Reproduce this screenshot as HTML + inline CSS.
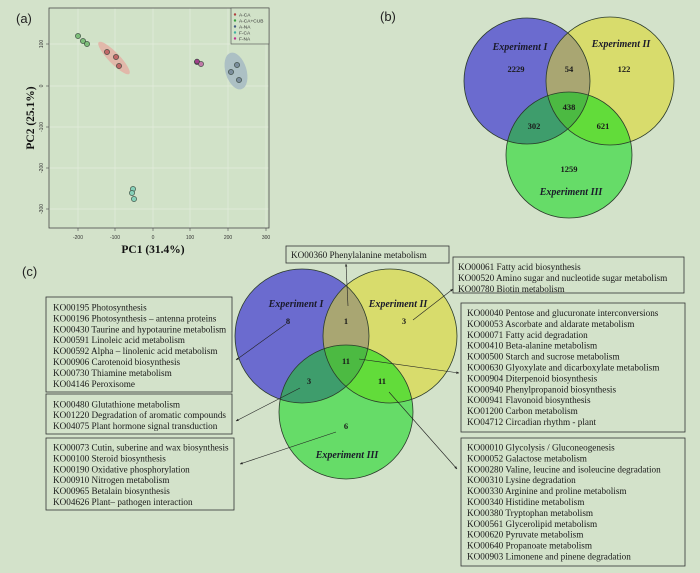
<!DOCTYPE html>
<html><head><meta charset="utf-8"><style>
html,body{margin:0;padding:0;background:#d3e2ca;}
svg{display:block;}
.t{font-family:"Liberation Serif",serif;font-size:9.2px;fill:#1a1a1a;}
.ex{font-family:"Liberation Serif",serif;font-size:10px;font-weight:bold;font-style:italic;fill:#1a1a2a;}
.nm{font-family:"Liberation Serif",serif;font-size:8.5px;font-weight:bold;fill:#1a1a1a;}
.lab{font-family:"Liberation Sans",sans-serif;font-size:13px;fill:#222;}
.tk{font-family:"Liberation Sans",sans-serif;font-size:5px;fill:#333;}
.lg{font-family:"Liberation Sans",sans-serif;font-size:4.8px;fill:#333;}
.ax{font-family:"Liberation Serif",serif;font-size:11.5px;font-weight:bold;fill:#111;}
</style></head><body>
<svg width="700" height="573" viewBox="0 0 700 573" xmlns="http://www.w3.org/2000/svg">
<defs>
<marker id="ah" viewBox="0 0 10 10" refX="9" refY="5" markerWidth="5" markerHeight="5" orient="auto-start-reverse">
<path d="M0,1 L10,5 L0,9 z" fill="#222"/>
</marker>
<clipPath id="bA"><circle cx="527" cy="81" r="63"/></clipPath>
<clipPath id="bB"><circle cx="610" cy="81" r="64"/></clipPath>
<clipPath id="bC"><circle cx="569" cy="155" r="63"/></clipPath>
<clipPath id="cA"><circle cx="302" cy="336" r="67"/></clipPath>
<clipPath id="cB"><circle cx="390" cy="336" r="67"/></clipPath>
<clipPath id="cC"><circle cx="346" cy="412" r="67"/></clipPath>
</defs>
<rect width="700" height="573" fill="#d3e2ca"/>

<!-- Panel (a) -->
<text class="lab" x="16" y="23">(a)</text>
<rect x="49" y="8" width="220" height="220" fill="#d1e2c8"/>
<g stroke="#e3ecdd" stroke-width="0.7">
<line x1="78" y1="8" x2="78" y2="228"/><line x1="115" y1="8" x2="115" y2="228"/>
<line x1="153" y1="8" x2="153" y2="228"/><line x1="190" y1="8" x2="190" y2="228"/>
<line x1="228" y1="8" x2="228" y2="228"/><line x1="266" y1="8" x2="266" y2="228"/>
<line x1="49" y1="44" x2="269" y2="44"/><line x1="49" y1="86" x2="269" y2="86"/>
<line x1="49" y1="127" x2="269" y2="127"/><line x1="49" y1="168" x2="269" y2="168"/>
<line x1="49" y1="209" x2="269" y2="209"/>
</g>
<rect x="49" y="8" width="220" height="220" fill="none" stroke="#4a4a4a" stroke-width="0.8"/>
<g stroke="#4a4a4a" stroke-width="0.6">
<line x1="78" y1="228" x2="78" y2="231"/><line x1="115" y1="228" x2="115" y2="231"/>
<line x1="153" y1="228" x2="153" y2="231"/><line x1="190" y1="228" x2="190" y2="231"/>
<line x1="228" y1="228" x2="228" y2="231"/><line x1="266" y1="228" x2="266" y2="231"/>
<line x1="46" y1="44" x2="49" y2="44"/><line x1="46" y1="86" x2="49" y2="86"/>
<line x1="46" y1="127" x2="49" y2="127"/><line x1="46" y1="168" x2="49" y2="168"/>
<line x1="46" y1="209" x2="49" y2="209"/>
</g>
<g class="tk" text-anchor="middle">
<text x="78" y="239">-200</text><text x="115" y="239">-100</text><text x="153" y="239">0</text>
<text x="190" y="239">100</text><text x="228" y="239">200</text><text x="266" y="239">300</text>
<text transform="translate(43,44) rotate(-90)">100</text>
<text transform="translate(43,86) rotate(-90)">0</text>
<text transform="translate(43,127) rotate(-90)">-100</text>
<text transform="translate(43,168) rotate(-90)">-200</text>
<text transform="translate(43,209) rotate(-90)">-300</text>
</g>
<!-- ellipses -->
<ellipse cx="114" cy="58" rx="22" ry="5.5" transform="rotate(46 114 58)" fill="#e2b4a6" opacity="0.9"/>
<ellipse cx="236" cy="71" rx="10.5" ry="19" transform="rotate(-17 236 71)" fill="#a7bcc3" opacity="0.9"/>
<!-- points -->
<g stroke="#2f3f35" stroke-width="0.6">
<circle cx="78" cy="36" r="2.6" fill="#7dbd7a"/><circle cx="83" cy="41" r="2.6" fill="#7dbd7a"/><circle cx="87" cy="44" r="2.6" fill="#7dbd7a"/>
<circle cx="107" cy="52" r="2.6" fill="#c06868"/><circle cx="116" cy="57" r="2.6" fill="#c06868"/><circle cx="119" cy="66" r="2.6" fill="#c06868"/>
<circle cx="197" cy="62" r="2.6" fill="#b24d96"/><circle cx="201" cy="64" r="2.6" fill="#c07aa8"/><circle cx="197" cy="61.5" r="2.4" fill="#a0408a"/>
<circle cx="237" cy="65" r="2.6" fill="#7b8e9c"/><circle cx="231" cy="72" r="2.6" fill="#7b8e9c"/><circle cx="239" cy="80" r="2.6" fill="#7b8e9c"/>
<circle cx="133" cy="189" r="2.6" fill="#86d0b8"/><circle cx="132" cy="193" r="2.6" fill="#86d0b8"/><circle cx="134" cy="199" r="2.6" fill="#86d0b8"/>
</g>
<!-- legend -->
<rect x="231" y="8" width="38" height="36" fill="#d1e2c8" stroke="#4a4a4a" stroke-width="0.6"/>
<circle cx="235" cy="14.5" r="1.2" fill="#b04040"/><text class="lg" x="239" y="16.3">A-CA</text>
<circle cx="235" cy="20.5" r="1.2" fill="#3aa040"/><text class="lg" x="239" y="22.3">A-CA+CUB</text>
<circle cx="235" cy="26.5" r="1.2" fill="#405a80"/><text class="lg" x="239" y="28.3">A-NA</text>
<circle cx="235" cy="32.5" r="1.2" fill="#40b0a0"/><text class="lg" x="239" y="34.3">F-CA</text>
<circle cx="235" cy="38.5" r="1.2" fill="#c03090"/><text class="lg" x="239" y="40.3">F-NA</text>
<text class="ax" x="153" y="253" text-anchor="middle">PC1 (31.4%)</text>
<text class="ax" transform="translate(34,118) rotate(-90)" text-anchor="middle">PC2 (25.1%)</text>

<!-- Panel (b) -->
<text class="lab" x="380" y="21">(b)</text>
<circle cx="527" cy="81" r="63" fill="#6b6bcf"/>
<circle cx="610" cy="81" r="64" fill="#d8dc6c"/>
<circle cx="569" cy="155" r="63" fill="#66dc68"/>
<circle cx="610" cy="81" r="64" fill="#a9a672" clip-path="url(#bA)"/>
<circle cx="569" cy="155" r="63" fill="#3e9d6c" clip-path="url(#bA)"/>
<circle cx="569" cy="155" r="63" fill="#62dc3a" clip-path="url(#bB)"/>
<g clip-path="url(#bA)"><circle cx="569" cy="155" r="63" fill="#4cba42" clip-path="url(#bB)"/></g>
<g fill="none" stroke="#2a3a2a" stroke-width="0.8">
<circle cx="527" cy="81" r="63"/><circle cx="610" cy="81" r="64"/><circle cx="569" cy="155" r="63"/>
</g>
<text class="ex" x="520" y="50" text-anchor="middle">Experiment I</text>
<text class="ex" x="621" y="47" text-anchor="middle">Experiment II</text>
<text class="ex" x="571" y="195" text-anchor="middle">Experiment III</text>
<g class="nm" text-anchor="middle">
<text x="516" y="72">2229</text><text x="569" y="72">54</text><text x="624" y="72">122</text>
<text x="569" y="110">438</text><text x="534" y="129">302</text><text x="603" y="129">621</text>
<text x="569" y="172">1259</text>
</g>

<!-- Panel (c) -->
<text class="lab" x="22" y="276">(c)</text>
<circle cx="302" cy="336" r="67" fill="#6b6bcf"/>
<circle cx="390" cy="336" r="67" fill="#d8dc6c"/>
<circle cx="346" cy="412" r="67" fill="#66dc68"/>
<circle cx="390" cy="336" r="67" fill="#a9a672" clip-path="url(#cA)"/>
<circle cx="346" cy="412" r="67" fill="#3e9d6c" clip-path="url(#cA)"/>
<circle cx="346" cy="412" r="67" fill="#62dc3a" clip-path="url(#cB)"/>
<g clip-path="url(#cA)"><circle cx="346" cy="412" r="67" fill="#4cba42" clip-path="url(#cB)"/></g>
<g fill="none" stroke="#2a3a2a" stroke-width="0.8">
<circle cx="302" cy="336" r="67"/><circle cx="390" cy="336" r="67"/><circle cx="346" cy="412" r="67"/>
</g>
<text class="ex" x="296" y="307" text-anchor="middle">Experiment I</text>
<text class="ex" x="398" y="307" text-anchor="middle">Experiment II</text>
<text class="ex" x="347" y="458" text-anchor="middle">Experiment III</text>
<g class="nm" text-anchor="middle">
<text x="288" y="324">8</text><text x="346" y="324">1</text><text x="404" y="324">3</text>
<text x="346" y="364">11</text><text x="309" y="384">3</text><text x="382" y="384">11</text>
<text x="346" y="429">6</text>
</g>

<!-- arrows -->
<g stroke="#222" stroke-width="0.6" fill="none" marker-end="url(#ah)">
<line x1="348" y1="306" x2="346" y2="264"/>
<line x1="286" y1="324" x2="236" y2="360"/>
<line x1="300" y1="388" x2="236" y2="421"/>
<line x1="336" y1="432" x2="240" y2="464"/>
<line x1="413" y1="320" x2="453" y2="289"/>
<line x1="359" y1="359" x2="459" y2="373"/>
<line x1="389" y1="392" x2="457" y2="469"/>
</g>

<!-- boxes -->
<g fill="none" stroke="#333" stroke-width="0.8">
<rect x="286" y="246" width="163" height="17"/>
<rect x="46" y="297" width="186" height="95"/>
<rect x="46" y="394" width="186" height="40"/>
<rect x="46" y="438" width="188" height="72"/>
<rect x="453" y="257" width="231" height="36"/>
<rect x="461" y="303" width="224" height="129"/>
<rect x="461" y="438" width="224" height="128"/>
</g>
<text class="t" x="291" y="258">KO00360 Phenylalanine metabolism</text>
<g class="t">
<text x="53" y="310.5">KO00195 Photosynthesis</text>
<text x="53" y="321.4">KO00196 Photosynthesis – antenna proteins</text>
<text x="53" y="332.3">KO00430 Taurine and hypotaurine metabolism</text>
<text x="53" y="343.2">KO00591 Linoleic acid metabolism</text>
<text x="53" y="354.1">KO00592 Alpha – linolenic acid metabolism</text>
<text x="53" y="365">KO00906 Carotenoid biosynthesis</text>
<text x="53" y="375.9">KO00730 Thiamine metabolism</text>
<text x="53" y="386.8">KO04146 Peroxisome</text>

<text x="53" y="407.3">KO00480 Glutathione metabolism</text>
<text x="53" y="418.2">KO01220 Degradation of aromatic compounds</text>
<text x="53" y="429.1">KO04075 Plant hormone signal transduction</text>

<text x="53" y="450.5">KO00073 Cutin, suberine and wax biosynthesis</text>
<text x="53" y="461.4">KO00100 Steroid biosynthesis</text>
<text x="53" y="472.3">KO00190 Oxidative phosphorylation</text>
<text x="53" y="483.2">KO00910 Nitrogen metabolism</text>
<text x="53" y="494.1">KO00965 Betalain biosynthesis</text>
<text x="53" y="505">KO04626 Plant– pathogen interaction</text>

<text x="458" y="270">KO00061 Fatty acid biosynthesis</text>
<text x="458" y="281">KO00520 Amino sugar and nucleotide sugar metabolism</text>
<text x="458" y="292">KO00780 Biotin metabolism</text>

<text x="467" y="316">KO00040 Pentose and glucuronate interconversions</text>
<text x="467" y="326.9">KO00053 Ascorbate and aldarate metabolism</text>
<text x="467" y="337.8">KO00071 Fatty acid degradation</text>
<text x="467" y="348.7">KO00410 Beta-alanine metabolism</text>
<text x="467" y="359.6">KO00500 Starch and sucrose metabolism</text>
<text x="467" y="370.5">KO00630 Glyoxylate and dicarboxylate metabolism</text>
<text x="467" y="381.4">KO00904 Diterpenoid biosynthesis</text>
<text x="467" y="392.3">KO00940 Phenylpropanoid biosynthesis</text>
<text x="467" y="403.2">KO00941 Flavonoid biosynthesis</text>
<text x="467" y="414.1">KO01200 Carbon metabolism</text>
<text x="467" y="425">KO04712 Circadian rhythm - plant</text>

<text x="467" y="450.5">KO00010 Glycolysis / Gluconeogenesis</text>
<text x="467" y="461.4">KO00052 Galactose metabolism</text>
<text x="467" y="472.3">KO00280 Valine, leucine and isoleucine degradation</text>
<text x="467" y="483.2">KO00310 Lysine degradation</text>
<text x="467" y="494.1">KO00330 Arginine and proline metabolism</text>
<text x="467" y="505">KO00340 Histidine metabolism</text>
<text x="467" y="515.9">KO00380 Tryptophan metabolism</text>
<text x="467" y="526.8">KO00561 Glycerolipid metabolism</text>
<text x="467" y="537.7">KO00620 Pyruvate metabolism</text>
<text x="467" y="548.6">KO00640 Propanoate metabolism</text>
<text x="467" y="559.5">KO00903 Limonene and pinene degradation</text>
</g>
</svg>
</body></html>
